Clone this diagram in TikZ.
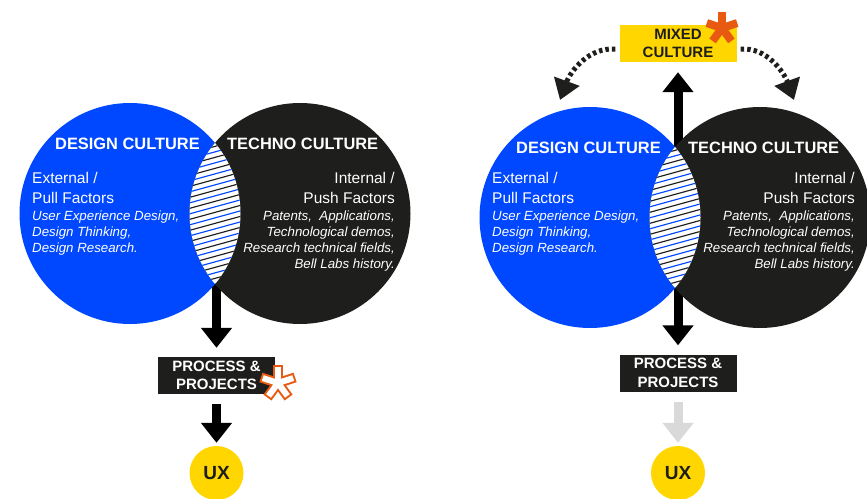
\documentclass[tikz,border=0pt]{standalone}
\usepackage{fontspec}
\setmainfont{Liberation Sans}
\usepackage{tikz}
\usetikzlibrary{arrows.meta, positioning, calc}

\definecolor{designblue}{RGB}{0,72,255}
\definecolor{technoblack}{RGB}{30,30,28}
\definecolor{uxyellow}{RGB}{255,214,0}
\definecolor{starorange}{RGB}{232,90,18}
\definecolor{fadegray}{RGB}{217,217,217}

\begin{document}
\begin{tikzpicture}[x=1pt, y=1pt,
  title/.style={font=\fontsize{16.4}{19}\selectfont\bfseries, text=white, inner sep=0pt},
  factor/.style={font=\fontsize{15.5}{20}\selectfont, text=white, inner sep=0pt},
  example/.style={font=\fontsize{13.3}{16}\selectfont\itshape, text=white, inner sep=0pt},
  stepbox/.style={fill=technoblack, text=white, font=\fontsize{15}{18.5}\selectfont\bfseries,
    minimum width=117pt, minimum height=37pt, inner sep=0pt, align=center},
  uxdot/.style={circle, fill=uxyellow, minimum size=54pt, inner sep=0pt,
    font=\fontsize{19}{19}\selectfont\bfseries, text=technoblack},
  flow/.style={line width=9pt, -{Triangle[width=30pt, length=20pt]}},
  hop/.style={line width=5pt, dash pattern=on 3.5pt off 3pt, -{Triangle[width=26pt, length=20pt]}},
  hatch/.style={line width=1.15pt}]
  \useasboundingbox (0,0) rectangle (867,-498);

  % ---------- left: design + techno cultures ----------
  \node[stepbox] (l-proc) at (216.5,-375.5) {PROCESS \&\\PROJECTS};
  \node[uxdot] (l-ux) at (216.5,-473) {UX};
  \coordinate (l-lens) at (216.5,-250);
  \draw[flow, shorten >=9pt] (l-lens) -- (l-proc);
  \draw[flow, shorten <=10pt, shorten >=3pt] (l-proc) -- (l-ux);
  % circles
  \fill[designblue] (130,-213.5) circle (110.5);
  \fill[technoblack] (300,-213.5) circle (110.5);
  % hatched overlap
  \begin{scope}
    \clip (130,-213.5) circle (110.5);
    \clip (300,-213.5) circle (110.5);
    \fill[white] (180,-90) rectangle (260,-340);
    \foreach \k in {0,...,17} {
      \draw[hatch, technoblack] (180,-310+11*\k) -- ++(80,22);
      \draw[hatch, designblue] (180,-304.5+11*\k) -- ++(80,22);
    }
  \end{scope}
  % texts (base = last line)
  \node[title, anchor=base west] (l-design) at (55,-149) {DESIGN CULTURE};
  \node[title, anchor=base west] (l-techno) at (227,-149) {TECHNO CULTURE};
  \node[factor, anchor=base west, align=left] (l-pull) at (32,-203) {External /\\Pull Factors};
  \node[example, anchor=base west, align=left] (l-pullex) at (32,-252)
    {User Experience Design,\\Design Thinking,\\Design Research.};
  \node[factor, anchor=base east, align=right] (l-push) at (395,-203) {Internal /\\Push Factors};
  \node[example, anchor=base east, align=right] (l-pushex) at (395,-268)
    {Patents,\ \ Applications,\\Technological demos,\\Research technical fields,\\Bell Labs history.};
  % outlined star
  \coordinate (l-star) at (278,-383);
  \foreach \a in {18,90,162,234,306}
    \draw[starorange, line width=10pt] (l-star) -- ++(\a:18);
  \foreach \a in {18,90,162,234,306}
    \draw[white, line width=6pt] (l-star) -- ++(\a:16);

  % ---------- right: with mixed culture ----------
  \node[stepbox] (r-proc) at (678,-373) {PROCESS \&\\PROJECTS};
  \node[uxdot] (r-ux) at (678,-473) {UX};
  \node[stepbox, fill=uxyellow, text=technoblack] (r-mix) at (678,-43.5) {MIXED\\CULTURE};
  \draw[flow, {Triangle[width=30pt, length=20pt]}-{Triangle[width=30pt, length=20pt]},
    shorten <=10pt, shorten >=9pt] (r-mix) -- (r-proc);
  \draw[flow, fadegray, shorten <=10pt, shorten >=3pt] (r-proc) -- (r-ux);
  % dotted hops
  \coordinate (r-dl) at (560,-100);
  \coordinate (r-dr) at (794,-100);
  \draw[hop, technoblack, shorten <=4pt] ([yshift=-6pt]r-mix.west) to[out=175, in=70] (r-dl);
  \draw[hop, technoblack, shorten <=4pt] ([yshift=-6pt]r-mix.east) to[out=5, in=110] (r-dr);
  % circles
  \fill[designblue] (590,-217.5) circle (110.5);
  \fill[technoblack] (760,-217.5) circle (110.5);
  % hatched overlap
  \begin{scope}
    \clip (590,-217.5) circle (110.5);
    \clip (760,-217.5) circle (110.5);
    \fill[white] (640,-90) rectangle (720,-340);
    \foreach \k in {0,...,17} {
      \draw[hatch, technoblack] (640,-314+11*\k) -- ++(80,22);
      \draw[hatch, designblue] (640,-308.5+11*\k) -- ++(80,22);
    }
  \end{scope}
  % texts (base = last line)
  \node[title, anchor=base west] (r-design) at (516,-153) {DESIGN CULTURE};
  \node[title, anchor=base west] (r-techno) at (688,-153) {TECHNO CULTURE};
  \node[factor, anchor=base west, align=left] (r-pull) at (492,-203) {External /\\Pull Factors};
  \node[example, anchor=base west, align=left] (r-pullex) at (492,-252)
    {User Experience Design,\\Design Thinking,\\Design Research.};
  \node[factor, anchor=base east, align=right] (r-push) at (855,-203) {Internal /\\Push Factors};
  \node[example, anchor=base east, align=right] (r-pushex) at (855,-268)
    {Patents,\ \ Applications,\\Technological demos,\\Research technical fields,\\Bell Labs history.};
  % solid star
  \coordinate (r-star) at (722,-28);
  \foreach \a in {18,90,162,234,306}
    \draw[starorange, line width=8pt] (r-star) -- ++(\a:16);
\end{tikzpicture}
\end{document}
